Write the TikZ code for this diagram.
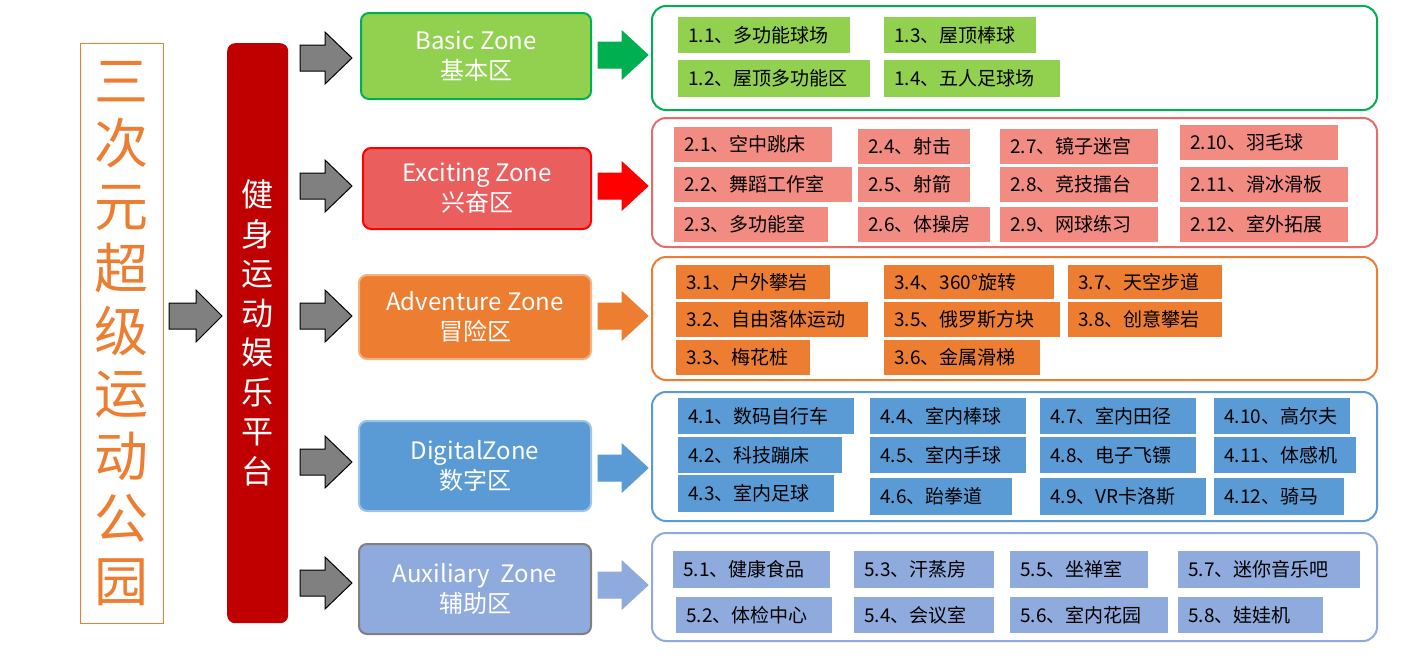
\documentclass[tikz,border=0pt]{standalone}
\usepackage{fontspec}
\setmainfont{Noto Sans CJK SC}
\begin{document}
\begin{tikzpicture}[x=1pt,y=-1pt,
  celltext/.style={inner sep=0pt,font=\fontsize{19}{22}\selectfont,text=black},
  zonetext/.style={align=center,text=white,font=\fontsize{24}{30}\selectfont}]
\definecolor{cgreen}{HTML}{92D050}\definecolor{dgreen}{HTML}{00B050}
\definecolor{csalmon}{HTML}{F28B82}\definecolor{czred}{HTML}{EA5E5E}\definecolor{bred}{HTML}{E46C6C}
\definecolor{corange}{HTML}{ED7D31}\definecolor{lorange}{HTML}{F4B183}
\definecolor{cblue}{HTML}{5B9BD5}\definecolor{lblue}{HTML}{9DC3E6}
\definecolor{cpblue}{HTML}{8FAADC}\definecolor{dred}{HTML}{C00000}
\useasboundingbox (0,0) rectangle (1427,659);
\fill[white] (0,0) rectangle (1427,659);
\newcommand\cellbox[7]{\fill[#6] (#2,#3) rectangle (#4,#5);
  \node[celltext,anchor=west] (#1) at ({#2+10},{(#3+#5)/2}) {#7};}
\newcommand\rarr[8]{% x1 xh x2 yc shaft head fill draw
  \filldraw[fill=#7,draw=#8,line width=1pt] (#1,{#4-#5}) -- (#2,{#4-#5}) -- (#2,{#4-#6}) -- (#3,#4) -- (#2,{#4+#6}) -- (#2,{#4+#5}) -- (#1,{#4+#5}) -- cycle;}
% title
\node[draw=corange,minimum width=83,minimum height=580,anchor=north west] (title) at (80,43) {};
\node[text=corange,align=center,font=\fontsize{54}{62.5}\selectfont] (ttext) at (title.center) {三\\次\\元\\超\\级\\运\\动\\公\\园};
% red bar
\node[fill=dred,rounded corners=8,minimum width=61,minimum height=580,anchor=north west] (bar) at (227,43) {};
\node[text=white,align=center,font=\fontsize{32}{39.5}\selectfont] (btext) at (257,333) {健\\身\\运\\动\\娱\\乐\\平\\台};
% gray arrows
\rarr{169}{196}{222}{316}{13}{26}{gray}{black}
\foreach \yc in {58,186,316,462,583}{\rarr{300}{325}{352}{\yc}{13}{26}{gray}{black}}
% zones
\node[draw=dgreen,fill=cgreen,line width=2pt,rounded corners=8,minimum width=230,minimum height=86,anchor=north west] (z1) at (360,12) {};
\node[zonetext] at (z1.center) {Basic Zone\\基本区};
\node[draw=red,fill=czred,line width=2pt,rounded corners=8,minimum width=228,minimum height=81,anchor=north west] (z2) at (362,147) {};
\node[zonetext] at (z2.center) {Exciting Zone\\兴奋区};
\node[draw=lorange,fill=corange,line width=2pt,rounded corners=8,minimum width=232,minimum height=84,anchor=north west] (z3) at (358,274) {};
\node[zonetext] at (z3.center) {Adventure Zone\\冒险区};
\node[draw=lblue,fill=cblue,line width=2pt,rounded corners=8,minimum width=232,minimum height=90,anchor=north west] (z4) at (358,420) {};
\node[zonetext] at (z4.center) {DigitalZone\\数字区};
\node[draw=gray,fill=cpblue,line width=2pt,rounded corners=8,minimum width=232,minimum height=90,anchor=north west] (z5) at (358,543) {};
\node[zonetext] at (z5.center) {Auxiliary\ \ Zone\\辅助区};
% colored arrows
\rarr{598}{622}{648}{55}{13}{24}{dgreen}{dgreen}
\rarr{598}{622}{648}{186}{13}{24}{red}{red}
\rarr{598}{622}{648}{316}{13}{24}{corange}{corange}
\rarr{598}{622}{648}{468}{13}{24}{cblue}{cblue}
\rarr{598}{622}{648}{585}{13}{24}{cpblue}{cpblue}
% big boxes
\draw[dgreen,line width=2pt,rounded corners=14] (652,6) rectangle (1377,110);
\draw[bred,line width=2pt,rounded corners=14] (652,118) rectangle (1377,247);
\draw[corange,line width=2pt,rounded corners=14] (652,257) rectangle (1377,380);
\draw[cblue,line width=2pt,rounded corners=14] (652,392) rectangle (1377,521);
\draw[cpblue,line width=2pt,rounded corners=14] (652,533) rectangle (1377,641);
% basic cells
\cellbox{c11}{678}{17}{850}{53}{cgreen}{1.1、多功能球场}
\cellbox{c13}{884}{17}{1036}{53}{cgreen}{1.3、屋顶棒球}
\cellbox{c12}{678}{60}{870}{97}{cgreen}{1.2、屋顶多功能区}
\cellbox{c14}{884}{60}{1060}{97}{cgreen}{1.4、五人足球场}
% exciting
\cellbox{c21}{674}{127}{832}{162}{csalmon}{2.1、空中跳床}
\cellbox{c22}{674}{167}{852}{202}{csalmon}{2.2、舞蹈工作室}
\cellbox{c23}{674}{207}{828}{242}{csalmon}{2.3、多功能室}
\cellbox{c24}{858}{129}{970}{164}{csalmon}{2.4、射击}
\cellbox{c25}{858}{167}{970}{202}{csalmon}{2.5、射箭}
\cellbox{c26}{858}{207}{990}{242}{csalmon}{2.6、体操房}
\cellbox{c27}{1000}{129}{1158}{164}{csalmon}{2.7、镜子迷宫}
\cellbox{c28}{1000}{167}{1158}{202}{csalmon}{2.8、竞技擂台}
\cellbox{c29}{1000}{207}{1158}{242}{csalmon}{2.9、网球练习}
\cellbox{c210}{1180}{125}{1338}{160}{csalmon}{2.10、羽毛球}
\cellbox{c211}{1180}{167}{1348}{202}{csalmon}{2.11、滑冰滑板}
\cellbox{c212}{1180}{207}{1348}{242}{csalmon}{2.12、室外拓展}
% adventure
\cellbox{c31}{676}{265}{830}{299}{corange}{3.1、户外攀岩}
\cellbox{c32}{676}{302}{868}{337}{corange}{3.2、自由落体运动}
\cellbox{c33}{676}{340}{810}{375}{corange}{3.3、梅花桩}
\cellbox{c34}{884}{265}{1054}{299}{corange}{3.4、360°旋转}
\cellbox{c35}{884}{302}{1060}{337}{corange}{3.5、俄罗斯方块}
\cellbox{c36}{884}{340}{1040}{375}{corange}{3.6、金属滑梯}
\cellbox{c37}{1068}{265}{1222}{299}{corange}{3.7、天空步道}
\cellbox{c38}{1068}{302}{1222}{337}{corange}{3.8、创意攀岩}
% digital
\cellbox{c41}{678}{398}{854}{434}{cblue}{4.1、数码自行车}
\cellbox{c42}{678}{437}{842}{473}{cblue}{4.2、科技蹦床}
\cellbox{c43}{678}{475}{834}{512}{cblue}{4.3、室内足球}
\cellbox{c44}{870}{398}{1026}{434}{cblue}{4.4、室内棒球}
\cellbox{c45}{870}{437}{1026}{473}{cblue}{4.5、室内手球}
\cellbox{c46}{870}{478}{1012}{515}{cblue}{4.6、跆拳道}
\cellbox{c47}{1040}{398}{1196}{434}{cblue}{4.7、室内田径}
\cellbox{c48}{1040}{437}{1196}{473}{cblue}{4.8、电子飞镖}
\cellbox{c49}{1040}{478}{1206}{515}{cblue}{4.9、VR卡洛斯}
\cellbox{c410}{1214}{398}{1350}{434}{cblue}{4.10、高尔夫}
\cellbox{c411}{1214}{437}{1356}{473}{cblue}{4.11、体感机}
\cellbox{c412}{1214}{478}{1344}{515}{cblue}{4.12、骑马}
% auxiliary
\cellbox{c51}{673}{551}{830}{588}{cpblue}{5.1、健康食品}
\cellbox{c52}{676}{597}{832}{633}{cpblue}{5.2、体检中心}
\cellbox{c53}{854}{551}{994}{588}{cpblue}{5.3、汗蒸房}
\cellbox{c54}{854}{597}{994}{633}{cpblue}{5.4、会议室}
\cellbox{c55}{1010}{551}{1148}{588}{cpblue}{5.5、坐禅室}
\cellbox{c56}{1010}{597}{1168}{633}{cpblue}{5.6、室内花园}
\cellbox{c57}{1178}{551}{1360}{588}{cpblue}{5.7、迷你音乐吧}
\cellbox{c58}{1178}{597}{1323}{633}{cpblue}{5.8、娃娃机}
\end{tikzpicture}
\end{document}
